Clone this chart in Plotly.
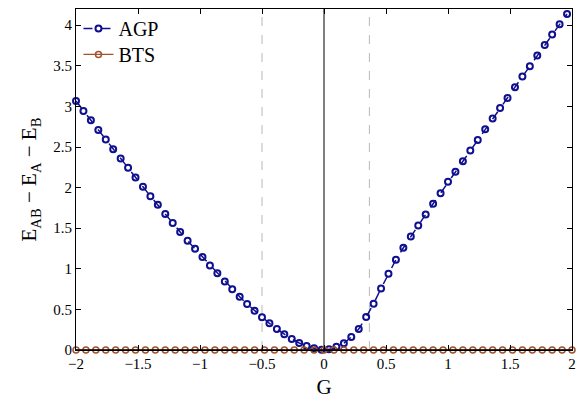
import numpy as np
import plotly.graph_objects as go

# AGP series: G from -2 in steps of 0.06 (67 points)
agp_g_start = -2.0
agp_g_step = 0.06
agp_values = [
    3.068, 2.945, 2.831, 2.711, 2.593, 2.474, 2.359, 2.244, 2.126, 2.010,
    1.895, 1.788, 1.674, 1.564, 1.454,
    1.345, 1.247, 1.145, 1.042, 0.944, 0.845, 0.747, 0.656, 0.566, 0.484,
    0.402, 0.328, 0.258, 0.193, 0.135, 0.086, 0.049, 0.021, 0.004,
    0.008, 0.041, 0.082, 0.160, 0.258, 0.406, 0.570, 0.759, 0.939, 1.112,
    1.259, 1.399, 1.534, 1.670, 1.801, 1.932, 2.071,
    2.195, 2.326, 2.458, 2.588, 2.720, 2.851, 2.982, 3.105, 3.237, 3.368,
    3.495, 3.627, 3.758, 3.885, 4.012, 4.139,
]
agp_g = [round(agp_g_start + agp_g_step * i, 4) for i in range(len(agp_values))]

# BTS series: G from -2 to 2 in steps of 0.08
bts_g = [round(-2 + 0.08 * i, 4) for i in range(51)]
bts_values = [0.0] * 51

vlines_dashed = [-0.5, 0.366]
x_ticks = [-2, -1.5, -1, -0.5, 0, 0.5, 1, 1.5, 2]
x_ticktext = ["−2", "−1.5", "−1", "−0.5", "0", "0.5", "1", "1.5", "2"]
y_ticks = [0, 0.5, 1, 1.5, 2, 2.5, 3, 3.5, 4]
y_ticktext = ["0", "0.5", "1", "1.5", "2", "2.5", "3", "3.5", "4"]

FONT = "Liberation Serif, DejaVu Serif, serif"
AGP_C = "#0f0f8f"
BTS_C = "#a0522d"

fig = go.Figure()

for xv in vlines_dashed:
    fig.add_shape(type="line", x0=xv, x1=xv, y0=0, y1=1, xref="x", yref="paper",
                  line=dict(color="#b8b8b8", width=1, dash="dash"), layer="below")
fig.add_shape(type="line", x0=0, x1=0, y0=0, y1=1, xref="x", yref="paper",
              line=dict(color="black", width=1), layer="below")

fig.add_trace(go.Scatter(
    x=agp_g, y=agp_values, name="AGP", mode="lines+markers", legend="legend",
    line=dict(color=AGP_C, width=1.5, dash="dash"),
    marker=dict(symbol="circle-open", size=6, color=AGP_C, line=dict(width=2, color=AGP_C)),
    cliponaxis=False,
))
fig.add_trace(go.Scatter(
    x=bts_g, y=bts_values, name="BTS", mode="lines+markers", legend="legend2",
    line=dict(color=BTS_C, width=1.2),
    marker=dict(symbol="circle-open", size=6, color=BTS_C, line=dict(width=1.5, color=BTS_C)),
    cliponaxis=False,
))
fig.add_shape(type="line", x0=-2, x1=2, y0=0, y1=0, xref="x", yref="y",
              line=dict(color="black", width=1.5), layer="above")

leg_common = dict(xanchor="left", yanchor="top", bgcolor="rgba(0,0,0,0)",
                  font=dict(family=FONT, size=20), itemwidth=30)

fig.update_layout(
    width=581, height=400,
    margin=dict(l=76, r=5, t=9, b=50),
    paper_bgcolor="white", plot_bgcolor="white",
    font=dict(family=FONT, size=15, color="black"),
    showlegend=True,
    legend=dict(x=0.005, y=1.0, **leg_common),
    legend2=dict(x=0.005, y=0.924, **leg_common),
    xaxis=dict(range=[-2, 2], tickvals=x_ticks, ticktext=x_ticktext,
               ticks="inside", ticklen=5, tickcolor="black", showgrid=False,
               zeroline=False, showline=True, linecolor="black", linewidth=1.2,
               mirror="ticks",
               title=dict(text="G", font=dict(family=FONT, size=21), standoff=8),
               tickfont=dict(family=FONT, size=15)),
    yaxis=dict(range=[0, 4.2], tickvals=y_ticks, ticktext=y_ticktext,
               ticks="inside", ticklen=5, tickcolor="black", showgrid=False,
               zeroline=False, showline=True, linecolor="black", linewidth=1.2,
               mirror="ticks",
               title=dict(text="E<sub>AB</sub> − E<sub>A</sub> − E<sub>B</sub>",
                          font=dict(family=FONT, size=21), standoff=10),
               tickfont=dict(family=FONT, size=15)),
)

fig.write_html("out.html")
